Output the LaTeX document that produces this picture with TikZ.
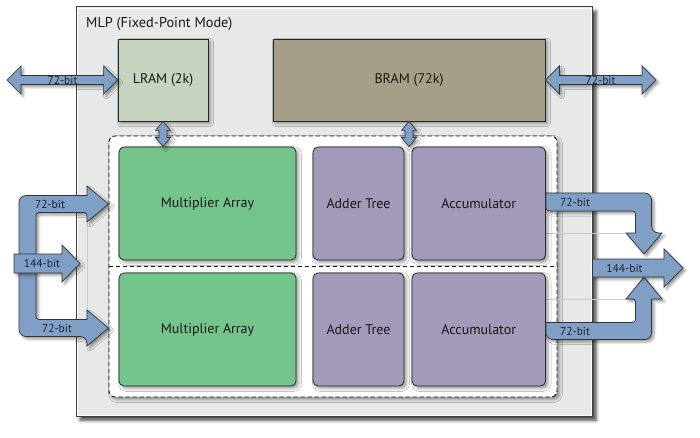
\documentclass[tikz,border=0pt]{standalone}
\usepackage{fontspec}
\setmainfont{PT Sans}
\usetikzlibrary{shadows.blur,calc}
\definecolor{outerfill}{HTML}{E7E8E8}
\definecolor{lramfill}{HTML}{C6D3BF}
\definecolor{bramfill}{HTML}{A69F88}
\definecolor{multfill}{HTML}{74C58B}
\definecolor{purfill}{HTML}{A39AB9}
\definecolor{arrowblue}{HTML}{7F9FC6}
\definecolor{txt}{HTML}{1A1718}
\definecolor{lbl}{HTML}{1F2433}
\definecolor{faint}{HTML}{C3CBD8}
\newcommand\hdarrow[2]{%
  \draw[fatarrow] (#1) -- ($(#1)+(14,-14)$) -- ($(#1)+(14,-4.5)$) -- ($(#2)+(-14,-4.5)$) -- ($(#2)+(-14,-14)$) -- (#2) -- ($(#2)+(-14,14)$) -- ($(#2)+(-14,4.5)$) -- ($(#1)+(14,4.5)$) -- ($(#1)+(14,14)$) -- cycle;}
\newcommand\vdarrow[2]{%
  \draw[fatarrow] (#1) -- ($(#1)+(7.5,9)$) -- ($(#1)+(4,9)$) -- ($(#2)+(4,-9)$) -- ($(#2)+(7.5,-9)$) -- (#2) -- ($(#2)+(-7.5,-9)$) -- ($(#2)+(-4,-9)$) -- ($(#1)+(-4,9)$) -- ($(#1)+(-7.5,9)$) -- cycle;}
\begin{document}
\begin{tikzpicture}[x=1pt,y=-1pt,
  sh/.style={blur shadow={shadow xshift=2.5pt,shadow yshift=-2.5pt,shadow opacity=40,shadow blur radius=3pt}},
  outerbox/.style={draw=black!75,line width=1pt,fill=outerfill,
    blur shadow={shadow xshift=4pt,shadow yshift=-4pt,shadow opacity=75,shadow blur radius=3.5pt}},
  rambox/.style={draw=black!85,line width=0.8pt,inner sep=0pt,text=txt,font=\fontsize{14}{16}\selectfont,sh},
  unit/.style={rambox,rounded corners=5pt},
  dashpat/.style={draw=black!90,line width=0.9pt,dash pattern=on 4.5pt off 2.5pt},
  dashbox/.style={dashpat,fill=white,rounded corners=6pt,sh},
  fatarrow/.style={fill=arrowblue,draw=black!80,line width=0.7pt,line join=miter,
    blur shadow={shadow xshift=2.5pt,shadow yshift=-2.5pt,shadow opacity=40,shadow blur radius=2.5pt}},
  bitlbl/.style={text=lbl,font=\fontsize{11.5}{13}\selectfont,inner sep=0pt},
  faintline/.style={draw=faint,line width=0.5pt}]
\useasboundingbox (0,0) rectangle (700,438);
% outer MLP box
\node[outerbox,minimum width=516pt,minimum height=409pt,inner sep=0pt] (mlp) at (334,211.5) {};
\draw[white,line width=0.8pt] ($(mlp.north west)+(1.5,1.5)$) rectangle ($(mlp.south east)+(-1.5,-1.5)$);
\node[anchor=west,text=txt,font=\fontsize{14.3}{16}\selectfont,inner sep=0pt] (title) at (86,24) {MLP (Fixed-Point Mode)};
% dashed container
\node[dashbox,minimum width=448pt,minimum height=261pt,inner sep=0pt] (dbox) at (333,266.5) {};
\draw[dashpat] (dbox.west) -- (dbox.east);
% faint guide lines
\draw[faintline] (87,212.5) -- (87,319.5);
\draw[faintline] (545.5,233) -- (635.5,233);
\draw[faintline] (545.5,299) -- (635.5,299);
% memories
\node[rambox,fill=lramfill,minimum width=90pt,minimum height=82pt] (LRAM) at (163,80) {LRAM (2k)};
\node[rambox,fill=bramfill,minimum width=272pt,minimum height=82pt] (BRAM) at (409,80) {BRAM (72k)};
% units
\node[unit,fill=multfill,minimum width=177pt,minimum height=113pt] (M1) at (207.5,203.5) {Multiplier Array};
\node[unit,fill=multfill,minimum width=177pt,minimum height=113pt] (M2) at (207.5,329.5) {Multiplier Array};
\node[unit,fill=purfill,minimum width=91pt,minimum height=113pt] (AD1) at (358.5,203.5) {Adder Tree};
\node[unit,fill=purfill,minimum width=91pt,minimum height=113pt] (AD2) at (358.5,329.5) {Adder Tree};
\node[unit,fill=purfill,minimum width=133.5pt,minimum height=113pt] (AC1) at (478.75,203.5) {Accumulator};
\node[unit,fill=purfill,minimum width=133.5pt,minimum height=113pt] (AC2) at (478.75,329.5) {Accumulator};
% memory ports
\coordinate (lfree) at (7,80);
\coordinate (rfree) at (656,80);
\hdarrow{lfree}{LRAM.west}
\hdarrow{BRAM.east}{rfree}
\vdarrow{LRAM.south}{LRAM.south |- M1.north}
\vdarrow{BRAM.south}{BRAM.south |- AC1.north}
% input bracket (72-bit + 72-bit)
\coordinate (inA) at (108.5,204);
\coordinate (inB) at (108.5,328);
\draw[fatarrow] (inA) -- (87,186) -- (87,195.5) [rounded corners=7pt] -- (19,195.5) -- (19,336.5) -- (87,336.5) [sharp corners] -- (87,346) -- (inB) -- (87,310) -- (87,319.5) [rounded corners=3pt] -- (36,319.5) -- (36,212.5) -- (87,212.5) [sharp corners] -- (87,222) -- cycle;
% 144-bit input
\coordinate (in144) at (80,263.5);
\draw[fatarrow] (14,254) -- (62,254) -- (62,245) -- (in144) -- (62,282) -- (62,273) -- (14,273) -- cycle;
% outputs
\coordinate (outA) at (644,254);
\coordinate (outB) at (644,277);
\draw[fatarrow] (AC1.east |- 0,193) [rounded corners=7pt] -- (651.5,193) -- (651.5,233) [sharp corners] -- (662,233) -- (outA) -- (626,233) -- (635.5,233) [rounded corners=3pt] -- (635.5,211) -- (AC1.east |- 0,211) [sharp corners] -- cycle;
\draw[fatarrow] (AC2.east |- 0,322.5) [rounded corners=3pt] -- (635.5,322.5) -- (635.5,299) [sharp corners] -- (626,299) -- (outB) -- (662,299) -- (651.5,299) [rounded corners=7pt] -- (651.5,339.5) -- (AC2.east |- 0,339.5) [sharp corners] -- cycle;
\coordinate (out144) at (683,268);
\draw[fatarrow] (mlp.east |- 0,259) -- (664,259) -- (664,249) -- (out144) -- (664,287) -- (664,277) -- (mlp.east |- 0,277) -- cycle;
% bit labels
\node[bitlbl] (l1) at (62.5,80.5) {72-bit};
\node[bitlbl] (l2) at (600.5,80.5) {72-bit};
\node[bitlbl] (l3) at (50,204) {72-bit};
\node[bitlbl] (l4) at (42,263.5) {144-bit};
\node[bitlbl] (l5) at (57,328) {72-bit};
\node[bitlbl] (l6) at (575,202) {72-bit};
\node[bitlbl] (l7) at (624.5,268) {144-bit};
\node[bitlbl] (l8) at (575,331) {72-bit};
\end{tikzpicture}
\end{document}
